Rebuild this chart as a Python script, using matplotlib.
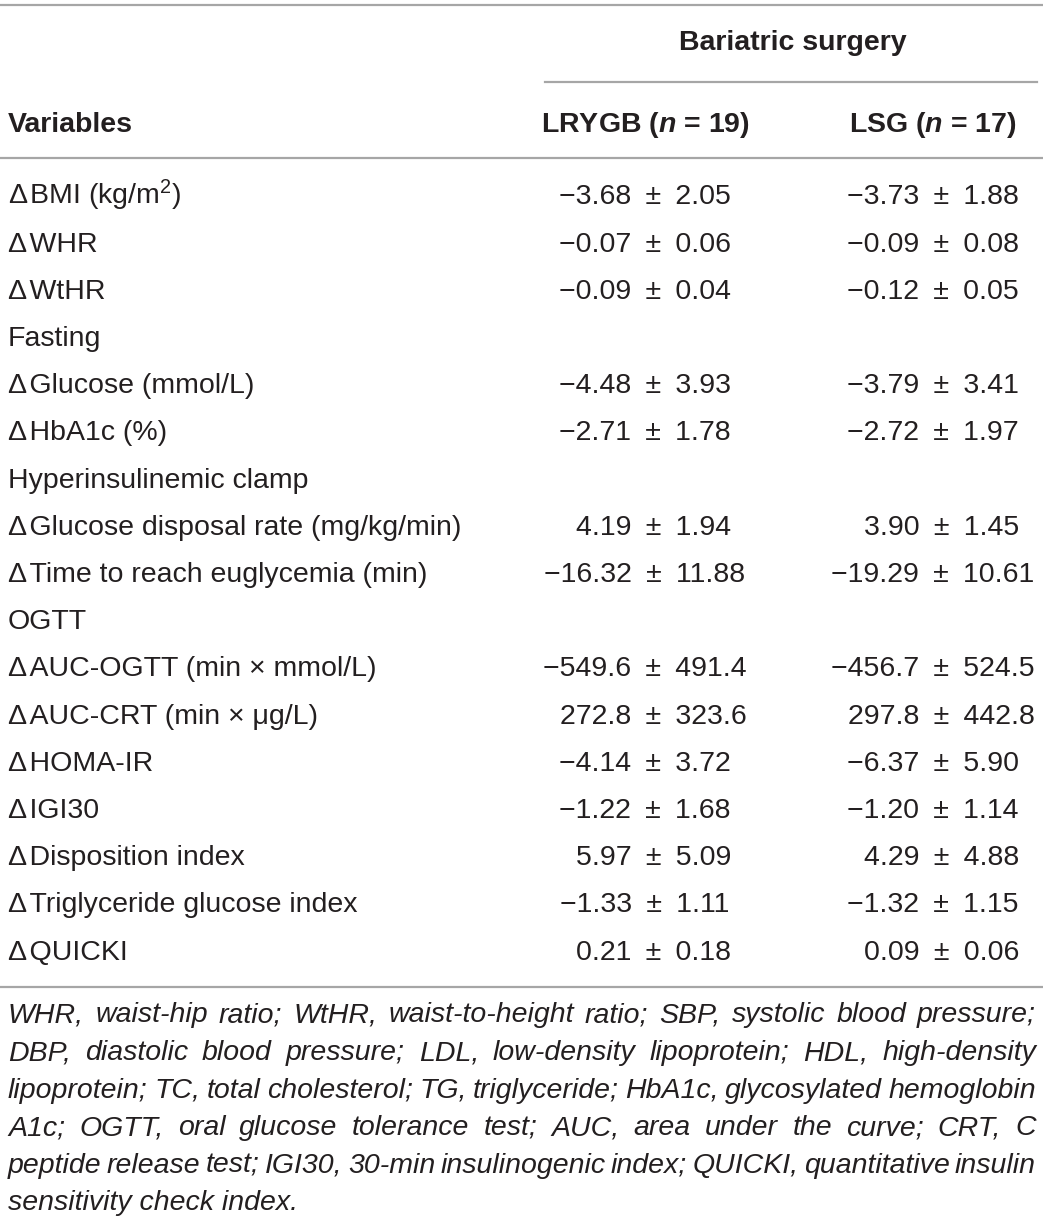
import matplotlib
matplotlib.use("Agg")
import matplotlib.pyplot as plt

plt.rcParams["font.family"] = ["Liberation Sans", "DejaVu Sans"]
plt.rcParams["mathtext.fontset"] = "custom"
plt.rcParams["mathtext.rm"] = "Liberation Sans"
plt.rcParams["mathtext.it"] = "Liberation Sans:italic:bold"
plt.rcParams["mathtext.bf"] = "Liberation Sans:bold"

D = "\u0394\u200a"
# table data (None = section header row)
variables = [
    D + "BMI (kg/m$^{2}$)", D + "WHR", D + "WtHR", "Fasting",
    D + "Glucose (mmol/L)", D + "HbA1c (%)", "Hyperinsulinemic clamp",
    D + "Glucose disposal rate (mg/kg/min)", D + "Time to reach euglycemia (min)",
    "OGTT", D + "AUC-OGTT (min \u00d7 mmol/L)", D + "AUC-CRT (min \u00d7 \u03bcg/L)",
    D + "HOMA-IR", D + "IGI30", D + "Disposition index",
    D + "Triglyceride glucose index", D + "QUICKI",
]
lrygb_mean = [-3.68, -0.07, -0.09, None, -4.48, -2.71, None, 4.19, -16.32, None,
              -549.6, 272.8, -4.14, -1.22, 5.97, -1.33, 0.21]
lrygb_sd = [2.05, 0.06, 0.04, None, 3.93, 1.78, None, 1.94, 11.88, None,
            491.4, 323.6, 3.72, 1.68, 5.09, 1.11, 0.18]
lsg_mean = [-3.73, -0.09, -0.12, None, -3.79, -2.72, None, 3.90, -19.29, None,
            -456.7, 297.8, -6.37, -1.20, 4.29, -1.32, 0.09]
lsg_sd = [1.88, 0.08, 0.05, None, 3.41, 1.97, None, 1.45, 10.61, None,
          524.5, 442.8, 5.90, 1.14, 4.88, 1.15, 0.06]
decimals = [2, 2, 2, 0, 2, 2, 0, 2, 2, 0, 1, 1, 2, 2, 2, 2, 2]

group_title = "Bariatric surgery"
col_titles = ["LRYGB ($\\mathit{n}$ = 19)", "LSG ($\\mathit{n}$ = 17)"]

footnote = [
    "WHR, waist-hip ratio; WtHR, waist-to-height ratio; SBP, systolic blood pressure;",
    "DBP, diastolic blood pressure; LDL, low-density lipoprotein; HDL, high-density",
    "lipoprotein; TC, total cholesterol; TG, triglyceride; HbA1c, glycosylated hemoglobin",
    "A1c; OGTT, oral glucose tolerance test; AUC, area under the curve; CRT, C",
    "peptide release test; IGI30, 30-min insulinogenic index; QUICKI, quantitative insulin",
    "sensitivity check index.",
]

W, H = 1043, 1222
txt = "#231f20"
rule = "#a6a6a6"
fs = 20.5

fig = plt.figure(figsize=(W / 100, H / 100), dpi=100)
ax = fig.add_axes([0, 0, 1, 1])
ax.set_xlim(0, W)
ax.set_ylim(H, 0)
ax.axis("off")
r = fig.canvas.get_renderer()

def fmt(v, d):
    s = f"{abs(v):.{d}f}"
    return ("\u2212" + s) if v < 0 else s

# rules
ax.plot([0, W], [5, 5], color=rule, lw=1.6)
ax.plot([545, 1037], [82, 82], color=rule, lw=1.6)
ax.plot([0, W], [158, 158], color=rule, lw=1.6)
ax.plot([0, W], [987, 987], color=rule, lw=1.6)

# header
base = 7.5
ax.text(793, 43 + base, group_title, ha="center", va="baseline", fontsize=fs, fontweight="bold", color=txt)
ax.text(8, 124 + base, "Variables", ha="left", va="baseline", fontsize=fs, fontweight="bold", color=txt)
col_x = [645, 933]
for xc, title in zip(col_x, col_titles):
    ax.text(xc, 124 + base, title, ha="center", va="baseline", fontsize=fs, fontweight="bold", color=txt)

# width of a minus sign, used to pad positive means so columns line up
m = ax.text(0, 0, "\u2212", fontsize=fs)
minus_w = m.get_window_extent(r).width
m.remove()

# body
y0, dy = 197, 47.2
for i, name in enumerate(variables):
    y = y0 + i * dy + base
    ax.text(8, y, name, ha="left", va="baseline", fontsize=fs, color=txt)
    for xc, means, sds in [(col_x[0], lrygb_mean, lrygb_sd), (col_x[1], lsg_mean, lsg_sd)]:
        if means[i] is None:
            continue
        s = fmt(means[i], decimals[i]) + "\u2002\u00b1\u2002" + fmt(sds[i], decimals[i])
        shift = 0 if means[i] < 0 else minus_w / 2
        ax.text(xc + shift, y, s, ha="center", va="baseline", fontsize=fs, color=txt)

# justified italic footnote
left, right = 8, 1036
fy0, fdy = 1015, 37.6
for k, line in enumerate(footnote):
    y = fy0 + k * fdy + base
    words = line.split(" ")
    if k == len(footnote) - 1:
        ax.text(left, y, line, ha="left", va="baseline", fontsize=fs, style="italic", color=txt)
        continue
    items = [ax.text(0, y, w, ha="left", va="baseline", fontsize=fs, style="italic", color=txt) for w in words]
    widths = [t.get_window_extent(r).width for t in items]
    gap = (right - left - sum(widths)) / (len(words) - 1)
    x = left
    for t, w in zip(items, widths):
        t.set_x(x)
        x += w + gap

fig.savefig("out.png", dpi=100, facecolor="white")
